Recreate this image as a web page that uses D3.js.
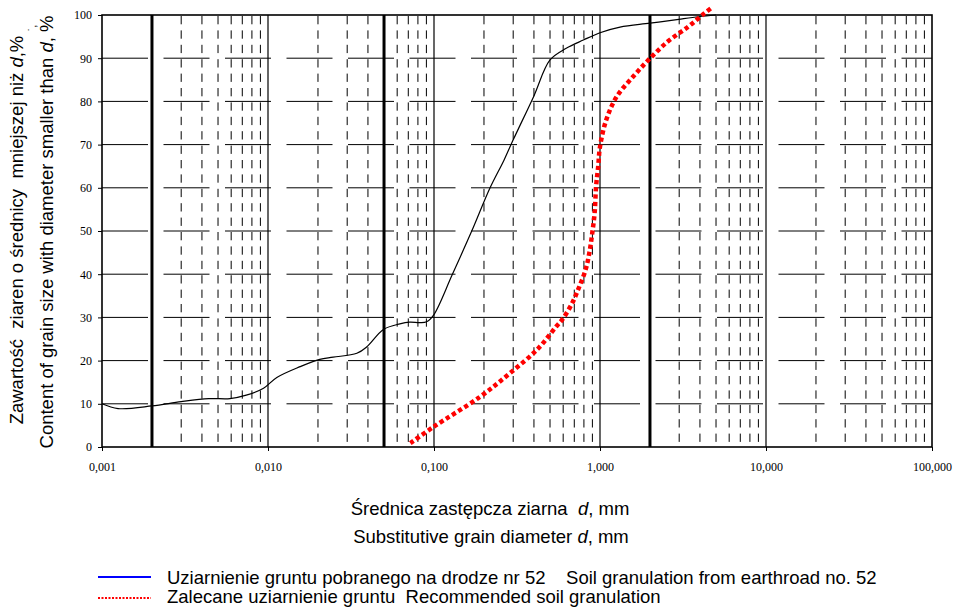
<!DOCTYPE html>
<html>
<head>
<meta charset="utf-8">
<script src="https://cdn.jsdelivr.net/npm/d3@7"></script>
<style>
  body { margin: 0; background: #fff; }
  svg { display: block; }
  text { white-space: pre; }
</style>
</head>
<body>
<div id="chart"></div>
<script>
const WIDTH = 958;
const HEIGHT = 608;
const LEFT = 102;
const RIGHT = 932;
const TOP = 15;
const BOTTOM = 447;

// sample curve (grain diameter mm / % passing)
const sampleDiameter = [0.001, 0.00125, 0.002, 0.003, 0.0044, 0.0059, 0.0074, 0.0094, 0.0113, 0.0156,
  0.0205, 0.0247, 0.0343, 0.0394, 0.0496, 0.0623, 0.0713, 0.0822, 0.0903, 0.0997,
  0.1285, 0.168, 0.217, 0.264, 0.3, 0.398, 0.5, 0.626, 0.794, 1.0, 1.32, 2.0, 2.98, 3.94, 5.0];
const samplePassing = [10, 8.9, 9.5, 10.5, 11.2, 11.2, 12.0, 13.6, 16.1, 18.6,
  20.3, 20.8, 21.7, 23.2, 27.2, 28.5, 28.9, 28.8, 29.0, 30.6,
  39.8, 49.8, 59.9, 66.4, 71.1, 81.1, 89.6, 92.3, 94.2, 95.9, 97.2, 98.1, 99.0, 99.6, 100];

// recommended granulation
const recDiameter = [0.072, 0.0988, 0.189, 0.287, 0.424, 0.545, 0.595, 0.68, 0.75, 0.82,
  0.867, 0.9, 0.928, 0.947, 0.975, 1.0, 1.09, 1.26, 1.58, 1.96, 2.55, 3.4, 4.26, 4.8];
const recPassing = [0.9, 4.6, 11.6, 17.1, 22.8, 27.9, 29.6, 33.3, 37.1, 41.1,
  45.4, 49.8, 54.1, 60.3, 64.9, 69.5, 75.7, 81.1, 85.7, 89.6, 93.8, 97.3, 100.4, 101.9];

const xTicks = [0.001, 0.01, 0.1, 1, 10, 100];
const xTickLabels = ['0,001', '0,010', '0,100', '1,000', '10,000', '100,000'];
const yTicks = [0, 10, 20, 30, 40, 50, 60, 70, 80, 90, 100];
const fractionLimits = [0.002, 0.05, 2];

const legendLabels = [
  'Uziarnienie gruntu pobranego na drodze nr 52    Soil granulation from earthroad no. 52',
  'Zalecane uziarnienie gruntu  Recommended soil granulation'
];

const svg = d3.select('#chart').append('svg')
  .attr('width', WIDTH)
  .attr('height', HEIGHT);

const x = d3.scaleLog().domain([0.001, 100]).range([LEFT, RIGHT]);
const y = d3.scaleLinear().domain([0, 100]).range([BOTTOM, TOP]);

function minorTicks() {
  let out = [];
  for (let p = -3; p < 2; p++) {
    for (let k = 2; k <= 9; k++) {
      let v = +(k * Math.pow(10, p)).toPrecision(3);
      if (!fractionLimits.includes(v)) out.push(v);
    }
  }
  return out;
}

function buildGrid() {
  let grid = svg.append('g').attr('class', 'grid');

  grid.selectAll('line.h')
    .data(yTicks.filter((t) => t > 0 && t < 100))
    .enter()
    .append('line')
    .attr('class', 'h')
    .attr('x1', LEFT).attr('x2', RIGHT)
    .attr('y1', (d) => y(d)).attr('y2', (d) => y(d))
    .attr('stroke', '#000')
    .attr('stroke-width', 1)
    .attr('stroke-dasharray', '46,15.5');

  grid.selectAll('line.minor')
    .data(minorTicks())
    .enter()
    .append('line')
    .attr('class', 'minor')
    .attr('x1', (d) => x(d)).attr('x2', (d) => x(d))
    .attr('y1', TOP + 1).attr('y2', BOTTOM)
    .attr('stroke', '#000')
    .attr('stroke-width', 1)
    .attr('stroke-dasharray', '8.3,6.1');

  grid.selectAll('line.decade')
    .data(xTicks.slice(1, -1))
    .enter()
    .append('line')
    .attr('class', 'decade')
    .attr('x1', (d) => x(d)).attr('x2', (d) => x(d))
    .attr('y1', TOP).attr('y2', BOTTOM)
    .attr('stroke', '#000')
    .attr('stroke-width', 1.2);

  grid.selectAll('line.limit')
    .data(fractionLimits)
    .enter()
    .append('line')
    .attr('class', 'limit')
    .attr('x1', (d) => x(d)).attr('x2', (d) => x(d))
    .attr('y1', TOP).attr('y2', BOTTOM)
    .attr('stroke', '#000')
    .attr('stroke-width', 3);
}

function buildAxes() {
  let xAxis = d3.axisBottom(x)
    .tickValues(xTicks)
    .tickFormat((d, i) => xTickLabels[i])
    .tickSize(4)
    .tickPadding(11);

  let yAxis = d3.axisLeft(y)
    .tickValues(yTicks)
    .tickSize(4)
    .tickPadding(6);

  let gx = svg.append('g')
    .attr('transform', `translate(0,${BOTTOM})`)
    .call(xAxis);
  let gy = svg.append('g')
    .attr('transform', `translate(${LEFT},0)`)
    .call(yAxis);

  [gx, gy].forEach((g) => {
    g.select('.domain').remove();
    g.selectAll('line').attr('stroke', '#000');
    g.selectAll('text')
      .attr('fill', '#000')
      .style('font-family', '"Liberation Serif", "Times New Roman", serif')
      .style('font-size', '12px');
  });

  svg.append('rect')
    .attr('x', LEFT).attr('y', TOP)
    .attr('width', RIGHT - LEFT).attr('height', BOTTOM - TOP)
    .attr('fill', 'none')
    .attr('stroke', '#000')
    .attr('stroke-width', 1.6);
}

function buildCurves() {
  let line = d3.line()
    .x((d) => x(d[0]))
    .y((d) => y(d[1]))
    .curve(d3.curveCatmullRom.alpha(0.5));

  svg.append('path')
    .datum(sampleDiameter.map((d, i) => [d, samplePassing[i]]))
    .attr('d', line)
    .attr('fill', 'none')
    .attr('stroke', '#000')
    .attr('stroke-width', 1.2);

  svg.append('path')
    .datum(recDiameter.map((d, i) => [d, recPassing[i]]))
    .attr('d', line)
    .attr('fill', 'none')
    .attr('stroke', '#ff0000')
    .attr('stroke-width', 4.5)
    .attr('stroke-dasharray', '4.2,3');
}

function addTitle(g, parts) {
  parts.forEach(([str, italic]) => {
    g.append('tspan')
      .style('font-style', italic ? 'italic' : 'normal')
      .text(str);
  });
}

function buildTitles() {
  let font = '"Liberation Sans", Arial, sans-serif';

  let y1 = svg.append('text')
    .attr('transform', 'translate(23,230) rotate(-90)')
    .attr('text-anchor', 'middle')
    .style('font-family', font).style('font-size', '18.5px');
  addTitle(y1, [['Zawartość  ziaren o średnicy  mniejszej niż ', false], ['d', true], [',%', false]]);

  let y2 = svg.append('text')
    .attr('transform', 'translate(53,232) rotate(-90)')
    .attr('text-anchor', 'middle')
    .style('font-family', font).style('font-size', '18.5px');
  addTitle(y2, [['Content of grain size with diameter smaller than ', false], ['d', true], [', %', false]]);

  // stray marks above "d," in the original
  svg.append('text')
    .attr('transform', 'translate(36,28) rotate(-90)')
    .attr('text-anchor', 'middle')
    .style('font-family', font).style('font-size', '11px')
    .text('˙,');

  let x1 = svg.append('text')
    .attr('x', 490).attr('y', 515)
    .attr('text-anchor', 'middle')
    .style('font-family', font).style('font-size', '18.5px');
  addTitle(x1, [['Średnica zastępcza ziarna  ', false], ['d', true], [', mm', false]]);

  let x2 = svg.append('text')
    .attr('x', 491).attr('y', 543)
    .attr('text-anchor', 'middle')
    .style('font-family', font).style('font-size', '18.5px');
  addTitle(x2, [['Substitutive grain diameter ', false], ['d', true], [', mm', false]]);
}

function buildLegend() {
  let font = '"Liberation Sans", Arial, sans-serif';
  let rows = [
    { label: legendLabels[0], color: '#0000ff', width: 2, dash: null, y: 577, base: 584 },
    { label: legendLabels[1], color: '#ff0000', width: 2, dash: '2,1.5', y: 598, base: 603 }
  ];

  let g = svg.append('g').attr('class', 'legend');
  let item = g.selectAll('g')
    .data(rows)
    .enter()
    .append('g');

  item.append('line')
    .attr('x1', 98).attr('x2', 151)
    .attr('y1', (d) => d.y).attr('y2', (d) => d.y)
    .attr('stroke', (d) => d.color)
    .attr('stroke-width', (d) => d.width)
    .attr('stroke-dasharray', (d) => d.dash);

  item.append('text')
    .attr('x', 167)
    .attr('y', (d) => d.base)
    .style('font-family', font)
    .style('font-size', '18.5px')
    .text((d) => d.label);
}

buildGrid();
buildAxes();
buildCurves();
buildTitles();
buildLegend();
</script>
</body>
</html>
